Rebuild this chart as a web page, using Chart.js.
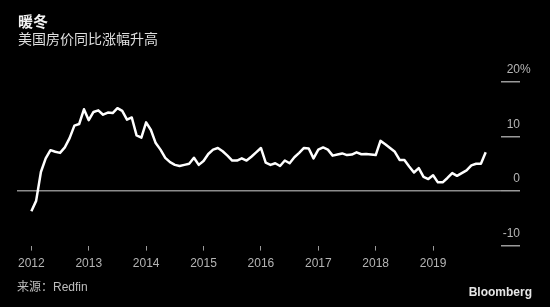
<!DOCTYPE html>
<html>
<head>
<meta charset="utf-8">
<script src="https://cdn.jsdelivr.net/npm/chart.js"></script>
<style>
  body { margin: 0; background: #000; }
  #wrap { position: relative; width: 550px; height: 307px; background: #000; overflow: hidden;
          font-family: 'Liberation Sans', 'Noto Sans CJK SC', sans-serif; }
  #wrap div { position: absolute; line-height: 1; white-space: nowrap; }
  .title { left: 18px; top: 14px; color: #f2f2f2; font-size: 15px; font-weight: bold; }
  .subtitle { left: 18px; top: 32px; color: #dedede; font-size: 14px; }
  .source { left: 17px; top: 281px; color: #bdbdbd; font-size: 12px; }
  .brand { right: 18px; top: 286px; color: #e6e6e6; font-size: 12px; font-weight: bold; }
  canvas { position: absolute; left: 0; top: 0; }
</style>
</head>
<body>
<div id="wrap">
  <canvas id="chart" width="550" height="307"></canvas>
  <div class="title">暖冬</div>
  <div class="subtitle">美国房价同比涨幅升高</div>
  <div class="source">来源：Redfin</div>
  <div class="brand">Bloomberg</div>
</div>
<script>
// monthly, Jan 2012 - Dec 2019, % year over year
const yoyChange = [
  -3.7, -1.8, 3.5, 6.0, 7.5, 7.2, 7.0, 8.0, 9.7, 12.0, 12.3, 15.0,
  13.0, 14.5, 14.8, 14.0, 14.4, 14.3, 15.2, 14.7, 13.1, 13.5, 10.2, 9.8,
  12.6, 11.2, 8.8, 7.6, 6.1, 5.3, 4.8, 4.6, 4.8, 5.0, 6.1, 4.8,
  5.5, 6.8, 7.6, 7.9, 7.3, 6.5, 5.6, 5.6, 6.0, 5.6, 6.3, 7.1,
  7.9, 5.2, 4.8, 5.1, 4.6, 5.6, 5.1, 6.2, 7.0, 7.9, 7.8, 6.0,
  7.6, 8.0, 7.6, 6.5, 6.7, 6.9, 6.6, 6.7, 7.1, 6.75, 6.8, 6.7,
  6.6, 9.2, 8.6, 7.9, 7.2, 5.7, 5.7, 4.5, 3.4, 4.2, 2.6, 2.2,
  2.9, 1.6, 1.6, 2.4, 3.3, 2.8, 3.3, 3.8, 4.7, 5.0, 5.0, 7.1
];
const years = ['2012', '2013', '2014', '2015', '2016', '2017', '2018', '2019'];
const yearStartMonth = [0, 12, 24, 36, 48, 60, 72, 84];
const yTicks = [-10, 0, 10, 20];

const tickFont = { family: "'Liberation Sans', 'Noto Sans CJK SC', sans-serif", size: 12 };

// the % after the top label hangs past the right edge
const percentSign = {
  id: 'percentSign',
  afterDraw(chart) {
    const s = chart.scales.y;
    const c = chart.ctx;
    c.save();
    c.font = "12px 'Liberation Sans', sans-serif";
    c.fillStyle = '#b4b4b4';
    c.textAlign = 'left';
    c.textBaseline = 'middle';
    c.fillText('%', s.right, s.getPixelForValue(yTicks[yTicks.length - 1]) - 12);
    c.restore();
  }
};

new Chart(document.getElementById('chart'), {
  type: 'line',
  data: {
    datasets: [{
      data: yoyChange.map((v, i) => ({ x: i, y: v })),
      borderColor: '#ffffff',
      borderWidth: 2.5,
      pointRadius: 0,
      tension: 0,
      fill: false,
      borderJoinStyle: 'round'
    }]
  },
  options: {
    responsive: false,
    animation: false,
    layout: { padding: { left: 17, right: 30, top: 82, bottom: 30 } },
    plugins: { legend: { display: false }, tooltip: { enabled: false } },
    scales: {
      x: {
        type: 'linear',
        min: -3,
        max: 98.2,
        afterBuildTicks: s => { s.ticks = yearStartMonth.map(v => ({ value: v })); },
        ticks: {
          callback: (v, i) => years[i],
          color: '#b4b4b4',
          font: tickFont,
          padding: 6,
          maxRotation: 0,
          autoSkip: false
        },
        grid: { drawOnChartArea: false, tickLength: 5, color: '#9a9a9a', lineWidth: 1 },
        border: { display: false }
      },
      y: {
        position: 'right',
        min: -10,
        max: 20,
        afterBuildTicks: s => { s.ticks = yTicks.map(v => ({ value: v })); },
        afterFit: s => { s.width = 19; },
        ticks: {
          mirror: true,
          padding: 19,
          labelOffset: -12,
          color: '#b4b4b4',
          font: tickFont,
          callback: v => String(v)
        },
        grid: {
          tickLength: 19,
          lineWidth: 1.5,
          color: c => (c.tick && c.tick.value === 0) ? '#8c8c8c' : 'rgba(0,0,0,0)',
          tickColor: '#9a9a9a'
        },
        border: { display: false }
      }
    }
  },
  plugins: [percentSign]
});
</script>
</body>
</html>
